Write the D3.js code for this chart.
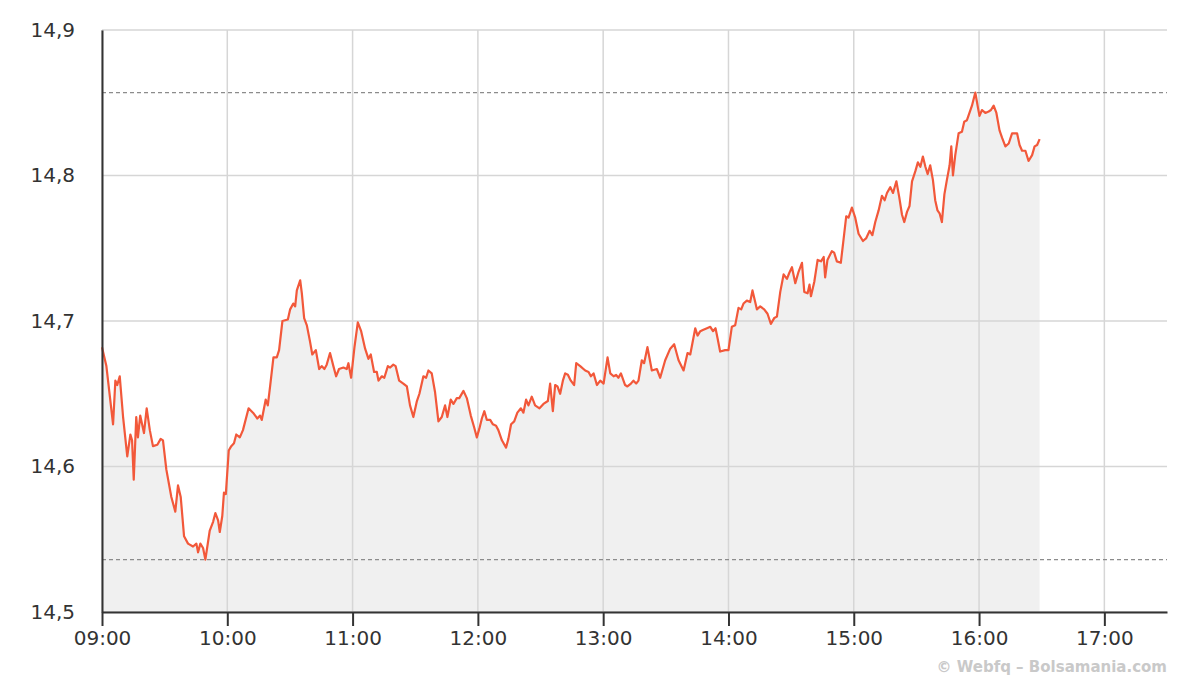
<!DOCTYPE html>
<html>
<head>
<meta charset="utf-8">
<script src="https://cdn.jsdelivr.net/npm/d3@7"></script>
<style>
    body { margin: 0; background: #fff; }
    svg { display: block; }
    svg text { font-family: "DejaVu Sans", Verdana, sans-serif; }
    .label { fill: #333; font-size: 20px; }
    .credit { fill: #c9c9c9; font-size: 15px; font-weight: bold; }
</style>
</head>
<body>
<div id="chart"></div>
<script>
// minutes after 09:00 and the price at that moment
const minutes = [
    0, 2.1, 5.3, 6.4, 7.3, 8.5, 10.1, 12.1, 13.6, 14.4, 15.2, 16.4, 17.2, 18.3, 20.1, 21.4, 22.9, 24.4, 26.5, 28.1,
    29.2, 30.8, 33.2, 35.1, 36.4, 37.7, 39.3, 41.2, 43.6, 45.2, 46.0, 47.1, 48.4, 49.5, 51.6, 53.2, 54.3, 55.6, 56.4, 57.6,
    58.4, 59.3, 60.7, 61.9, 63.2, 64.3, 66.0, 67.5, 70.2, 72.3, 74.4, 75.7, 76.5, 78.4, 79.4, 80.5, 82.1, 83.7, 84.8, 86.4,
    89.0, 90.1, 91.6, 92.5, 93.3, 94.9, 95.7, 96.8, 98.1, 99.6, 100.7, 102.4, 104.0, 105.2, 106.5, 107.6, 109.2, 110.8, 112.1, 113.5,
    115.6, 117.2, 118.0, 119.3, 120.9, 122.5, 124.1, 126.0, 127.6, 128.7, 130.3, 131.6, 132.4, 134.0, 135.2, 136.9, 138.0, 139.5, 140.6, 142.3,
    144.3, 146.0, 147.5, 149.1, 150.8, 152.0, 153.9, 155.2, 156.3, 157.9, 159.5, 161.1, 162.7, 164.3, 165.4, 167.0, 168.3, 169.9, 171.1, 173.1,
    174.7, 176.6, 178.2, 179.5, 180.7, 181.9, 183.1, 184.3, 185.9, 187.2, 188.7, 189.8, 191.5, 193.5, 194.6, 195.9, 197.4, 198.9, 200.6, 201.8,
    203.1, 204.2, 205.8, 207.4, 209.5, 211.4, 213.5, 214.6, 215.9, 217.0, 218.1, 219.4, 220.7, 221.8, 223.1, 224.5, 226.1, 227.1, 229.0, 231.4,
    233.0, 234.1, 235.4, 237.0, 238.6, 240.2, 242.1, 243.4, 245.0, 246.2, 247.3, 248.5, 250.5, 251.6, 253.3, 254.5, 255.8, 256.9, 258.5, 259.6,
    261.2, 263.3, 265.7, 267.3, 269.7, 272.1, 274.0, 276.1, 278.5, 280.4, 281.7, 284.1, 285.2, 286.5, 288.0, 289.7, 291.3, 292.6, 293.8, 294.8,
    296.0, 298.4, 300.0, 301.6, 303.2, 304.8, 306.1, 307.2, 308.8, 310.4, 311.5, 312.8, 313.6, 315.2, 317.1, 318.7, 320.3, 321.9, 323.2, 324.8,
    326.4, 328.0, 329.1, 330.4, 332.0, 333.6, 335.2, 336.3, 337.9, 338.8, 339.5, 341.1, 342.7, 344.3, 345.6, 346.3, 347.4, 349.5, 350.6, 351.9,
    353.8, 355.1, 356.4, 357.5, 359.1, 360.7, 362.3, 364.4, 366.0, 367.6, 368.9, 370.3, 371.9, 373.5, 374.8, 375.9, 377.5, 378.8, 380.4, 381.8,
    383.1, 384.2, 385.5, 386.7, 387.9, 389.5, 390.7, 391.9, 393.1, 394.3, 395.4, 396.6, 397.9, 399.0, 400.1, 401.1, 402.2, 403.4, 404.6, 405.9,
    406.7, 407.5, 408.6, 410.2, 411.8, 412.9, 414.2, 415.4, 416.6, 418.2, 419.3, 420.2, 421.4, 423.0, 424.6, 425.7, 427.0, 428.3, 429.8, 431.0,
    432.6, 434.2, 435.8, 438.2, 439.4, 440.6, 442.2, 443.7, 445.4, 446.6, 447.8, 449.0
];
const prices = [
    14.682, 14.669, 14.629, 14.659, 14.656, 14.662, 14.634, 14.607, 14.622, 14.618, 14.591, 14.634, 14.620, 14.635, 14.623, 14.640, 14.625, 14.614, 14.615, 14.619,
    14.618, 14.598, 14.579, 14.569, 14.587, 14.579, 14.552, 14.547, 14.545, 14.547, 14.541, 14.547, 14.544, 14.536, 14.556, 14.562, 14.568, 14.563, 14.555, 14.566,
    14.582, 14.581, 14.611, 14.614, 14.616, 14.622, 14.620, 14.625, 14.640, 14.637, 14.633, 14.635, 14.632, 14.646, 14.642, 14.655, 14.675, 14.675, 14.680, 14.700,
    14.701, 14.708, 14.712, 14.710, 14.721, 14.728, 14.719, 14.702, 14.697, 14.686, 14.677, 14.680, 14.667, 14.669, 14.667, 14.670, 14.678, 14.669, 14.662, 14.667,
    14.668, 14.667, 14.671, 14.661, 14.682, 14.699, 14.693, 14.681, 14.674, 14.677, 14.665, 14.665, 14.659, 14.662, 14.661, 14.669, 14.668, 14.670, 14.669, 14.659,
    14.657, 14.655, 14.642, 14.634, 14.645, 14.650, 14.662, 14.661, 14.666, 14.664, 14.651, 14.631, 14.634, 14.642, 14.634, 14.646, 14.643, 14.647, 14.647, 14.652,
    14.647, 14.635, 14.627, 14.620, 14.626, 14.633, 14.638, 14.632, 14.632, 14.629, 14.628, 14.625, 14.618, 14.613, 14.619, 14.629, 14.631, 14.637, 14.640, 14.637,
    14.646, 14.642, 14.648, 14.642, 14.640, 14.643, 14.645, 14.657, 14.638, 14.656, 14.655, 14.650, 14.659, 14.664, 14.663, 14.659, 14.656, 14.671, 14.669, 14.666,
    14.665, 14.662, 14.664, 14.656, 14.659, 14.657, 14.675, 14.664, 14.662, 14.663, 14.661, 14.664, 14.656, 14.655, 14.657, 14.659, 14.657, 14.659, 14.673, 14.671,
    14.682, 14.666, 14.667, 14.661, 14.673, 14.681, 14.684, 14.673, 14.666, 14.678, 14.677, 14.695, 14.690, 14.693, 14.694, 14.695, 14.696, 14.693, 14.695, 14.688,
    14.679, 14.680, 14.680, 14.696, 14.697, 14.709, 14.708, 14.712, 14.714, 14.713, 14.721, 14.713, 14.708, 14.710, 14.708, 14.705, 14.698, 14.702, 14.703, 14.720,
    14.732, 14.729, 14.733, 14.737, 14.726, 14.734, 14.740, 14.720, 14.719, 14.725, 14.717, 14.727, 14.742, 14.741, 14.744, 14.730, 14.742, 14.748, 14.747, 14.741,
    14.740, 14.756, 14.772, 14.771, 14.778, 14.771, 14.760, 14.755, 14.757, 14.762, 14.759, 14.768, 14.776, 14.786, 14.783, 14.788, 14.792, 14.788, 14.796, 14.785,
    14.773, 14.768, 14.775, 14.779, 14.796, 14.803, 14.809, 14.806, 14.813, 14.806, 14.801, 14.807, 14.797, 14.783, 14.776, 14.774, 14.768, 14.787, 14.797, 14.807,
    14.820, 14.800, 14.814, 14.829, 14.830, 14.837, 14.838, 14.843, 14.848, 14.857, 14.848, 14.841, 14.845, 14.843, 14.844, 14.845, 14.848, 14.843, 14.831, 14.826,
    14.820, 14.822, 14.829, 14.829, 14.821, 14.817, 14.817, 14.810, 14.814, 14.820, 14.821, 14.825
];

const hourTicks = [0, 60, 120, 180, 240, 300, 360, 420, 480];
const hourLabels = ['09:00', '10:00', '11:00', '12:00', '13:00', '14:00', '15:00', '16:00', '17:00'];
const priceTicks = [14.5, 14.6, 14.7, 14.8, 14.9];
const sessionEnd = 510; // 17:30

var width = 1200,
    height = 675,
    plotLeft = 102,
    plotRight = 1167,
    plotTop = 30,
    plotBottom = 612;

var data = minutes.map((m, i) => ({ m: m, p: prices[i] }));

var x = d3.scaleLinear().domain([0, sessionEnd]).range([plotLeft, plotRight]);
var y = d3.scaleLinear().domain([14.5, 14.9]).range([plotBottom, plotTop]);

var svg = d3.select('#chart').append('svg')
    .attr('width', width)
    .attr('height', height);

// shaded area under the price
svg.append('path')
    .datum(data)
    .attr('fill', '#f0f0f0')
    .attr('d', d3.area().x(d => x(d.m)).y0(plotBottom).y1(d => y(d.p)));

// grid
svg.append('g').selectAll('line').data(priceTicks).join('line')
    .attr('x1', plotLeft).attr('x2', plotRight)
    .attr('y1', d => y(d)).attr('y2', d => y(d))
    .attr('stroke', '#d6d6d6').attr('stroke-width', 1.5);

svg.append('g').selectAll('line').data(hourTicks).join('line')
    .attr('x1', d => x(d)).attr('x2', d => x(d))
    .attr('y1', plotTop).attr('y2', plotBottom)
    .attr('stroke', '#d6d6d6').attr('stroke-width', 1.5);

// session high / low
var hi = d3.max(prices), lo = d3.min(prices);
svg.append('g').selectAll('line').data([hi, lo]).join('line')
    .attr('x1', plotLeft).attr('x2', plotRight)
    .attr('y1', d => y(d)).attr('y2', d => y(d))
    .attr('stroke', '#8c8c8c').attr('stroke-width', 1.2)
    .attr('stroke-dasharray', '4,3');

// price line
svg.append('path')
    .datum(data)
    .attr('fill', 'none')
    .attr('stroke', '#f2583a')
    .attr('stroke-width', 2.2)
    .attr('stroke-linejoin', 'round')
    .attr('d', d3.line().x(d => x(d.m)).y(d => y(d.p)));

// axes
var xAxis = d3.axisBottom(x)
    .tickValues(hourTicks)
    .tickFormat((d, i) => hourLabels[i])
    .tickSize(14)
    .tickSizeOuter(0)
    .tickPadding(5);

var gx = svg.append('g')
    .attr('transform', 'translate(0,' + plotBottom + ')')
    .call(xAxis);
gx.select('.domain').attr('stroke', '#333').attr('stroke-width', 2);
gx.selectAll('.tick line').attr('stroke', '#333').attr('stroke-width', 2);
gx.selectAll('.tick text').attr('class', 'label');

var yAxis = d3.axisLeft(y)
    .tickValues(priceTicks)
    .tickFormat(d => d3.format('.1f')(d).replace('.', ','))
    .tickSize(0)
    .tickSizeOuter(0)
    .tickPadding(27);

var gy = svg.append('g')
    .attr('transform', 'translate(' + plotLeft + ',0)')
    .call(yAxis);
gy.select('.domain').attr('stroke', '#333').attr('stroke-width', 2);
gy.selectAll('.tick text').attr('class', 'label');

svg.append('text')
    .attr('class', 'credit')
    .attr('x', plotRight)
    .attr('y', 672)
    .attr('text-anchor', 'end')
    .text('© Webfq – Bolsamania.com');
</script>
</body>
</html>
